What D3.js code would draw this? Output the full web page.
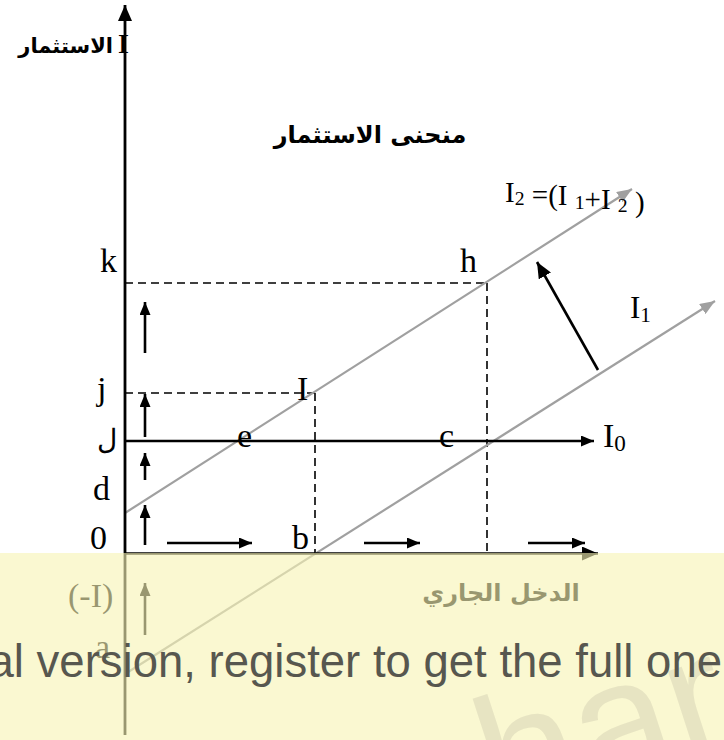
<!DOCTYPE html>
<html>
<head>
<meta charset="utf-8">
<script src="https://cdn.jsdelivr.net/npm/d3@7"></script>
<style>
    body { margin: 0; background: #fff; }
    .serif { font-family: "Liberation Serif", "DejaVu Serif", serif; }
    .arabic { font-family: "DejaVu Sans", sans-serif; font-weight: bold; }
</style>
</head>
<body>
<script>
//data (income on x, investment on y, origin at 0)
var axisLimits = [548, -182, 473];           //top of I axis, bottom of I axis, end of income axis
var levelI0 = 112, levelJ = 160, levelK = 270;
var incomeB = 190, incomeC = 362;
var lineI2 = [[0, 40], [507, 364]];
var lineI1 = [[0, -121], [590, 252]];
var lineI0 = [[0, 112], [469, 112]];
var upArrows = [[8, 48], [73, 100], [116, 159], [200, 251], [-82, -30]];
var rightArrows = [[42, 127], [239, 295], [403, 460]];
var shiftArrow = [[473, 183], [412, 291]];
var pointLabels = [
    {t: "k", x: -25, y: 281, s: 34}, {t: "h", x: 335, y: 281, s: 34},
    {t: "j", x: -28, y: 153, s: 34}, {t: "\u0644", x: -28, y: 104, s: 28},
    {t: "d", x: -32, y: 53, s: 34}, {t: "0", x: -35, y: 4, s: 34},
    {t: "b", x: 167, y: 4, s: 34}, {t: "e", x: 112, y: 106, s: 34},
    {t: "c", x: 314, y: 106, s: 34}, {t: "a", x: -30, y: -105, s: 34},
    {t: "(-I)", x: -57, y: -54, s: 34}, {t: "I", x: 172, y: 153, s: 34}
];

(function(){
    var width = 724, height = 740;

    var svg = d3.select("body")
        .append("svg")
        .attr("width", width)
        .attr("height", height);

    //scales, one unit = one pixel
    var x = d3.scaleLinear().domain([0, 600]).range([125, 725]);
    var y = d3.scaleLinear().domain([-190, 550]).range([743, 3]);

    //arrow heads
    var defs = svg.append("defs");
    function marker(id, color, w, h){
        defs.append("marker")
            .attr("id", id)
            .attr("viewBox", "0 0 " + w + " " + h)
            .attr("refX", w).attr("refY", h / 2)
            .attr("markerUnits", "userSpaceOnUse")
            .attr("markerWidth", w).attr("markerHeight", h)
            .attr("orient", "auto")
            .append("path")
            .attr("d", "M0,0L" + w + "," + (h / 2) + "L0," + h + "Z")
            .attr("fill", color);
    }
    marker("headBlack", "#000", 13, 11);
    marker("headAxis", "#000", 16, 14);
    marker("headGray", "#a0a0a0", 15, 12);

    var line = d3.line().x(function(d){ return x(d[0]); }).y(function(d){ return y(d[1]); });

    //dashed guide lines
    var dashes = [
        [[0, levelK], [incomeC, levelK]], [[incomeC, levelK], [incomeC, 0]],
        [[0, levelJ], [incomeB, levelJ]], [[incomeB, levelJ], [incomeB, 0]]
    ];
    svg.selectAll(".guide")
        .data(dashes)
        .enter()
        .append("path")
        .attr("class", "guide")
        .attr("d", line)
        .attr("stroke", "#000")
        .attr("stroke-width", 1.6)
        .attr("stroke-dasharray", "8,5")
        .attr("fill", "none");

    //investment lines I1 and I2
    svg.selectAll(".invest")
        .data([lineI2, lineI1])
        .enter()
        .append("path")
        .attr("class", "invest")
        .attr("d", line)
        .attr("stroke", "#a0a0a0")
        .attr("stroke-width", 2.2)
        .attr("fill", "none")
        .attr("marker-end", "url(#headGray)");

    //I0 line
    svg.append("path")
        .attr("d", line(lineI0))
        .attr("stroke", "#000")
        .attr("stroke-width", 2.6)
        .attr("marker-end", "url(#headBlack)");

    //axes
    svg.append("path")
        .attr("d", line([[0, axisLimits[1]], [0, axisLimits[0]]]))
        .attr("stroke", "#000")
        .attr("stroke-width", 2.8)
        .attr("marker-end", "url(#headAxis)");
    svg.append("path")
        .attr("d", line([[0, -0.5], [axisLimits[2], -0.5]]))
        .attr("stroke", "#000")
        .attr("stroke-width", 2.6)
        .attr("marker-end", "url(#headAxis)");

    //small movement arrows
    svg.selectAll(".up")
        .data(upArrows)
        .enter()
        .append("path")
        .attr("class", "up")
        .attr("d", function(d){ return line([[20, d[0]], [20, d[1]]]); })
        .attr("stroke", "#000")
        .attr("stroke-width", 2.6)
        .attr("marker-end", "url(#headBlack)");
    svg.selectAll(".right")
        .data(rightArrows)
        .enter()
        .append("path")
        .attr("class", "right")
        .attr("d", function(d){ return line([[d[0], 10], [d[1], 10]]); })
        .attr("stroke", "#000")
        .attr("stroke-width", 2.6)
        .attr("marker-end", "url(#headBlack)");
    svg.append("path")
        .attr("d", line(shiftArrow))
        .attr("stroke", "#000")
        .attr("stroke-width", 2.6)
        .attr("marker-end", "url(#headAxis)");

    //point labels
    svg.selectAll(".pt")
        .data(pointLabels)
        .enter()
        .append("text")
        .attr("class", "pt serif")
        .attr("x", function(d){ return x(d.x); })
        .attr("y", function(d){ return y(d.y); })
        .attr("font-size", function(d){ return d.s; })
        .text(function(d){ return d.t; });

    //line labels with subscripts
    function subLabel(px, py, size, parts){
        var t = svg.append("text")
            .attr("class", "serif")
            .attr("x", x(px)).attr("y", y(py))
            .attr("font-size", size);
        parts.forEach(function(p){
            t.append("tspan")
                .attr("font-size", p[1] ? size * 0.68 : size)
                .attr("dy", p[1] ? size * 0.12 : 0)
                .text(p[0]);
            if (p[1]) t.append("tspan").attr("dy", -size * 0.12).text("");
        });
    }
    subLabel(478, 106, 34, [["I"], ["0", 1]]);
    subLabel(505, 235, 31, [["I"], ["1", 1]]);
    subLabel(380, 351, 29, [["I"], ["2", 1], [" =(I "], ["1", 1], ["+I "], ["2", 1], [" )"]]);

    //axis titles in Arabic
    svg.append("text")
        .attr("class", "serif")
        .attr("x", x(-7)).attr("y", y(500))
        .attr("font-size", 28)
        .attr("font-weight", "bold")
        .text("I");
    svg.append("text")
        .attr("class", "arabic")
        .attr("x", x(-12)).attr("y", y(500))
        .attr("font-size", 21)
        .attr("text-anchor", "end")
        .text("الاستثمار");
    svg.append("text")
        .attr("class", "arabic")
        .attr("x", x(245)).attr("y", y(410))
        .attr("font-size", 24)
        .attr("text-anchor", "middle")
        .text("منحنى الاستثمار");
    svg.append("text")
        .attr("class", "arabic")
        .attr("x", x(376)).attr("y", y(-48))
        .attr("font-size", 24)
        .attr("text-anchor", "middle")
        .text("الدخل الجاري");

    //trial watermark band over the bottom
    svg.append("rect")
        .attr("x", 0).attr("y", 553)
        .attr("width", width).attr("height", height - 553)
        .attr("fill", "rgb(247,244,180)")
        .attr("opacity", 0.62);
    svg.append("text")
        .attr("transform", "translate(417,850) rotate(-18)")
        .attr("font-family", "Liberation Sans, Arial, sans-serif")
        .attr("font-size", 175)
        .attr("fill", "#e7e4c2")
        .text("share");
    svg.append("text")
        .attr("x", 722).attr("y", 677)
        .attr("text-anchor", "end")
        .attr("font-family", "Liberation Sans, Arial, sans-serif")
        .attr("font-size", 45.5)
        .attr("fill", "#57574f")
        .text("This is a trial version, register to get the full one");
})();
</script>
</body>
</html>
